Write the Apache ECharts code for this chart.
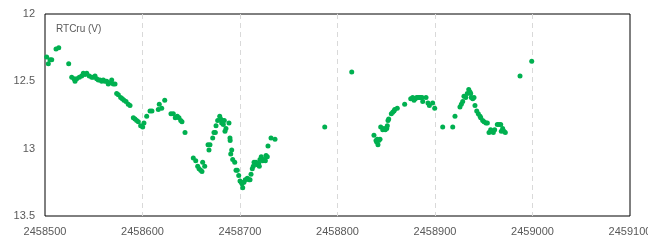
<!DOCTYPE html>
<html>
<head>
<meta charset="utf-8">
<script src="https://cdn.jsdelivr.net/npm/echarts@6/dist/echarts.min.js"></script>
<style>html,body{margin:0;padding:0;background:#fff}#c{width:648px;height:243px}</style>
</head>
<body>
<div id="c"></div>
<script>
var seriesName = "RTCru (V)";
var xTicks = [2458500, 2458600, 2458700, 2458800, 2458900, 2459000, 2459100];
var yTicks = [12, 12.5, 13, 13.5];
var jd = [
2458501.7,2458503.4,2458505.1,2458506.9,2458511.3,2458514.1,2458524.3,2458527.4,2458529.7,2458530.8,
2458532.5,2458535.2,2458537.6,2458539.3,2458541.0,2458542.8,2458545.4,2458547.9,2458549.5,2458551.3,
2458553.0,2458554.7,2458556.4,2458558.2,2458559.8,2458561.5,2458563.3,2458564.9,2458566.7,2458568.4,
2458570.0,2458571.8,2458573.5,2458575.2,2458577.6,2458579.3,2458581.0,2458583.1,2458585.4,2458587.2,
2458590.6,2458592.3,2458594.0,2458595.7,2458598.1,2458600.2,2458601.5,2458604.3,2458607.7,2458609.7,
2458616.2,2458617.2,2458619.7,2458622.8,2458629.2,2458631.6,2458633.6,2458635.7,2458637.4,2458639.2,
2458640.5,2458643.6,
2458652.1,2458654.6,2458656.6,2458658.0,2458659.7,2458661.0,2458661.7,2458663.8,2458667.2,2458669.2,
2458668.2,2458672.0,2458673.3,2458674.7,2458675.4,2458677.1,2458679.2,2458680.2,2458681.2,2458682.3,
2458683.9,2458682.9,2458685.6,2458684.6,2458688.7,2458689.7,2458689.9,2458691.5,2458690.5,2458692.5,
2458694.6,2458695.9,2458697.2,2458698.7,2458700.0,2458701.3,2458702.1,2458702.8,2458704.1,2458705.4,
2458707.5,2458709.2,2458710.3,2458711.3,2458712.6,2458713.6,2458714.4,2458716.4,2458717.7,2458719.2,
2458719.8,2458720.5,2458721.8,2458723.3,2458724.6,2458726.0,2458726.7,2458728.0,2458728.7,2458731.8,
2458735.9,
2458786.9,2458814.6,2458837.4,2458839.5,2458840.8,2458842.3,2458841.5,2458843.6,2458840.2,2458844.3,
2458846.4,2458847.7,2458849.0,2458850.5,2458851.1,2458851.8,2458852.5,2458855.2,2458856.6,2458857.9,
2458858.7,2458861.3,2458868.9,2458875.1,2458877.1,2458878.5,2458879.8,2458881.2,2458882.6,2458883.9,
2458885.3,2458886.7,2458887.4,2458890.8,2458892.8,2458894.2,2458897.6,2458899.7,2458907.9,2458918.2,
2458920.5,2458925.6,2458927.0,2458928.4,2458929.7,2458931.5,2458933.1,2458934.6,2458935.9,2458936.6,
2458937.2,2458938.7,2458940.0,2458941.0,2458942.8,2458944.4,2458946.2,2458946.9,2458948.9,2458950.3,
2458952.3,2458953.7,2458955.4,2458957.1,2458958.5,2458959.8,2458961.2,2458963.9,2458965.6,2458967.4,
2458969.4,2458968.0,2458970.8,2458972.1,2458987.2,2458999.2
];
var mag = [
12.32,12.37,12.34,12.34,12.26,12.25,12.37,12.47,12.48,12.50,
12.48,12.47,12.46,12.44,12.45,12.44,12.46,12.47,12.47,12.46,
12.48,12.49,12.49,12.50,12.49,12.50,12.50,12.52,12.51,12.49,
12.52,12.52,12.59,12.60,12.62,12.63,12.64,12.65,12.67,12.68,
12.77,12.78,12.79,12.80,12.83,12.84,12.81,12.76,12.72,12.72,
12.71,12.67,12.70,12.64,12.74,12.74,12.77,12.76,12.77,12.79,
12.80,12.88,
13.07,13.09,13.13,13.15,13.16,13.17,13.10,13.13,12.97,12.97,
13.01,12.92,12.88,12.88,12.83,12.79,12.76,12.78,12.81,12.79,
12.79,12.82,12.85,12.87,12.81,12.92,12.94,13.01,13.04,13.08,
13.10,13.16,13.16,13.20,13.24,13.25,13.26,13.29,13.25,13.23,
13.22,13.23,13.23,13.19,13.15,13.13,13.10,13.10,13.12,13.11,
13.13,13.08,13.06,13.09,13.08,13.09,13.05,13.06,12.98,12.92,
12.93,
12.84,12.43,12.90,12.94,12.93,12.94,12.97,12.93,12.95,12.84,
12.86,12.85,12.86,12.85,12.83,12.79,12.78,12.74,12.73,12.72,
12.71,12.70,12.67,12.63,12.62,12.64,12.63,12.62,12.62,12.62,
12.62,12.62,12.65,12.62,12.66,12.68,12.66,12.70,12.84,12.84,
12.76,12.69,12.67,12.65,12.61,12.62,12.59,12.56,12.58,12.59,
12.62,12.63,12.62,12.68,12.72,12.74,12.76,12.77,12.79,12.80,
12.81,12.81,12.88,12.86,12.87,12.88,12.86,12.82,12.82,12.82,
12.85,12.87,12.87,12.88,12.46,12.35
];
var points = jd.map(function (x, i) { return [x, mag[i]]; });
var font = '"Liberation Sans", Arial, sans-serif';
var chart = echarts.init(document.getElementById('c'), null, {renderer: 'canvas'});
chart.setOption({
  animation: false,
  backgroundColor: '#ffffff',
  title: {
    text: seriesName, left: 51, top: 19,
    textStyle: {fontSize: 10, fontWeight: 'normal', color: '#595959', fontFamily: font}
  },
  grid: {left: 45, right: 18, top: 14, bottom: 27, outerBoundsMode: 'none', containLabel: false,
    show: true, borderColor: '#000000', borderWidth: 1, backgroundColor: 'transparent'},
  xAxis: {
    type: 'value', min: xTicks[0], max: xTicks[xTicks.length - 1], interval: 100,
    axisLine: {show: false}, axisTick: {show: false},
    axisLabel: {color: '#595959', fontSize: 11, fontFamily: font, margin: 10, showMaxLabel: true, formatter: function (v) { return String(v); }},
    splitLine: {show: true, showMinLine: false, showMaxLine: false, lineStyle: {color: '#d9d9d9', type: [5, 4], width: 1}}
  },
  yAxis: {
    type: 'value', inverse: true, min: yTicks[0], max: yTicks[yTicks.length - 1], interval: 0.5,
    axisLine: {show: false}, axisTick: {show: false},
    axisLabel: {color: '#595959', fontSize: 11, fontFamily: font, margin: 10, formatter: function (v) { return String(v); }},
    splitLine: {show: false}
  },
  series: [{
    name: seriesName, type: 'scatter', data: points,
    symbol: 'circle', symbolSize: 5,
    itemStyle: {color: '#00b050', opacity: 1}
  }]
});
</script>
</body>
</html>
